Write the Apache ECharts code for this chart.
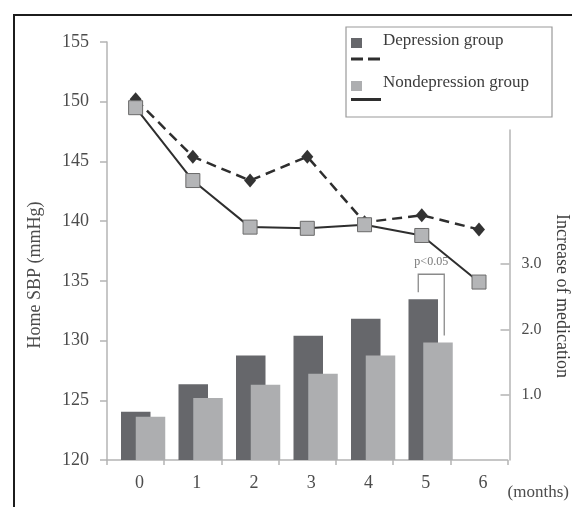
<!DOCTYPE html>
<html>
<head>
<meta charset="utf-8">
<script src="https://cdn.jsdelivr.net/npm/echarts@6/dist/echarts.min.js"></script>
<style>
html, body { margin: 0; padding: 0; background: #fff; }
#chartmain { width: 572px; height: 507px; }
</style>
</head>
<body>
<div id="chartmain"></div>
<script>
// data
var months = ['0', '1', '2', '3', '4', '5', '6'];
var depSBP = [150.2, 145.4, 143.4, 145.4, 139.9, 140.5, 139.3];
var nondepSBP = [149.5, 143.4, 139.5, 139.4, 139.7, 138.8, 134.9];
var depMed = [0.74, 1.16, 1.60, 1.90, 2.16, 2.46, '-'];
var nondepMed = [0.66, 0.95, 1.15, 1.32, 1.60, 1.80, '-'];
var medTicks = [1, 2, 3];
var sbpMin = 120, sbpMax = 155, sbpStep = 5;

var FONT = "'Liberation Serif', 'Times New Roman', serif";
var AXIS_GRAY = '#b4b4b4';
var TXT = '#4c4c4c';
var DARK = '#66676b';
var LIGHT = '#adaeb0';

var dom = document.getElementById('chartmain');
var chart = echarts.init(dom);

var option = {
    animation: false,
    backgroundColor: '#fff',
    textStyle: { fontFamily: FONT },
    grid: [
        { left: 107, right: 62.5, top: 42, bottom: 47 },
        // right axis only covers the lower part
        { left: 107, right: 62.5, top: 130, bottom: 47 }
    ],
    xAxis: [
        {
            type: 'category', gridIndex: 0, data: months,
            axisLine: { lineStyle: { color: AXIS_GRAY, width: 1.5 } },
            axisTick: { show: true, length: 5, lineStyle: { color: AXIS_GRAY, width: 1.5 } },
            axisLabel: { color: TXT, fontSize: 18, fontFamily: FONT, margin: 14, padding: [0, 0, 0, 8] },
            name: '(months)', nameLocation: 'end', nameGap: 0,
            nameTextStyle: { color: TXT, fontSize: 17, fontFamily: FONT, align: 'left', verticalAlign: 'top', padding: [24, 0, 0, 0] }
        },
        { type: 'category', gridIndex: 1, data: months, show: false }
    ],
    yAxis: [
        {
            type: 'value', gridIndex: 0, min: sbpMin, max: sbpMax, interval: sbpStep,
            axisLine: { show: true, lineStyle: { color: AXIS_GRAY, width: 1.5 } },
            axisTick: { show: true, length: 7, lineStyle: { color: AXIS_GRAY, width: 1.5 } },
            axisLabel: { color: TXT, fontSize: 18, fontFamily: FONT, margin: 18 },
            splitLine: { show: false }
        },
        {
            type: 'value', gridIndex: 1, position: 'right', min: 0, max: 5.05,
            axisLine: { show: true, lineStyle: { color: AXIS_GRAY, width: 1.5 } },
            axisTick: { show: true, inside: true, length: 9, customValues: medTicks, lineStyle: { color: AXIS_GRAY, width: 1.5 } },
            axisLabel: {
                color: TXT, fontSize: 16, fontFamily: FONT, margin: 12, customValues: medTicks,
                formatter: function (v) { return Number(v).toFixed(1); }
            },
            splitLine: { show: false }
        }
    ],
    series: [
        // empty slot so the pair of bars sits right of the month centre
        { name: 'pad', type: 'bar', xAxisIndex: 1, yAxisIndex: 1, barWidth: 29.5, barGap: '-50%', data: months.map(function () { return '-'; }) },
        { name: 'Depression group', type: 'bar', xAxisIndex: 1, yAxisIndex: 1, barWidth: 29.5, barGap: '-50%', itemStyle: { color: DARK }, data: depMed },
        { name: 'Nondepression group', type: 'bar', xAxisIndex: 1, yAxisIndex: 1, barWidth: 29.5, barGap: '-50%', itemStyle: { color: LIGHT }, data: nondepMed },
        {
            name: 'Depression group SBP', type: 'line', xAxisIndex: 0, yAxisIndex: 0, data: depSBP,
            symbol: 'diamond', symbolSize: [12, 14], z: 3,
            lineStyle: { color: '#2e2e2e', width: 2.5, type: [10, 6] },
            itemStyle: { color: '#333' }
        },
        {
            name: 'Nondepression group SBP', type: 'line', xAxisIndex: 0, yAxisIndex: 0, data: nondepSBP,
            symbol: 'rect', symbolSize: 14, z: 4,
            lineStyle: { color: '#2e2e2e', width: 2 },
            itemStyle: { color: '#b4b5b7', borderColor: '#6a6a6a', borderWidth: 1 }
        }
    ]
};
chart.setOption(option);

// bracket for p<0.05 over month 5, placed from the bar positions
var pd = chart.convertToPixel({ xAxisIndex: 1, yAxisIndex: 1 }, [months[5], depMed[5]]);
var pn = chart.convertToPixel({ xAxisIndex: 1, yAxisIndex: 1 }, [months[5], nondepMed[5]]);
var bxL = pd[0] - 5, bxR = pd[0] + 21;
var bTop = pd[1] - 25;

chart.setOption({
    graphic: [
        // outer frame
        { type: 'rect', silent: true, shape: { x: 14, y: 15, width: 640, height: 600 }, style: { fill: 'none', stroke: '#1c1c1c', lineWidth: 2 } },
        // axis titles
        { type: 'text', x: 35, y: 275, rotation: Math.PI / 2, style: { text: 'Home SBP (mmHg)', font: '18px ' + FONT, fill: TXT, align: 'center', verticalAlign: 'middle' } },
        { type: 'text', x: 562, y: 296, rotation: -Math.PI / 2, style: { text: 'Increase of medication', font: '18px ' + FONT, fill: '#3a3a3a', align: 'center', verticalAlign: 'middle' } },
        // legend
        { type: 'rect', shape: { x: 346, y: 27, width: 206, height: 90 }, style: { fill: '#fff', stroke: '#9a9a9a', lineWidth: 1.2 }, z: 10 },
        { type: 'rect', shape: { x: 351, y: 38, width: 11, height: 10 }, style: { fill: DARK }, z: 11 },
        { type: 'text', x: 383, y: 41, style: { text: 'Depression group', font: '17px ' + FONT, fill: '#3c3c3c', verticalAlign: 'middle' }, z: 11 },
        { type: 'line', shape: { x1: 351, y1: 59, x2: 381, y2: 59 }, style: { stroke: '#2e2e2e', lineWidth: 3, lineDash: [12, 5] }, z: 11 },
        { type: 'rect', shape: { x: 351, y: 81, width: 11, height: 10 }, style: { fill: LIGHT }, z: 11 },
        { type: 'text', x: 383, y: 83, style: { text: 'Nondepression group', font: '17px ' + FONT, fill: '#3c3c3c', verticalAlign: 'middle' }, z: 11 },
        { type: 'line', shape: { x1: 351, y1: 99.5, x2: 381, y2: 99.5 }, style: { stroke: '#2e2e2e', lineWidth: 3 }, z: 11 },
        // significance bracket
        { type: 'polyline', shape: { points: [[bxL, pd[1] - 7], [bxL, bTop], [bxR, bTop], [bxR, pn[1] - 7]] }, style: { fill: 'none', stroke: '#8a8a8a', lineWidth: 1.3 }, z: 11 },
        { type: 'text', x: (bxL + bxR) / 2, y: bTop - 12, style: { text: 'p<0.05', font: '12px ' + FONT, fill: '#777', align: 'center', verticalAlign: 'middle' }, z: 11 }
    ]
});
</script>
</body>
</html>
